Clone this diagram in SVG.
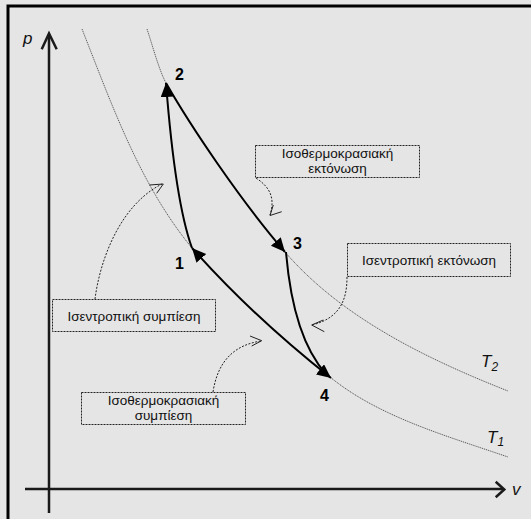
<svg xmlns="http://www.w3.org/2000/svg" width="531" height="519" viewBox="0 0 531 519">
<style>
.iso{fill:none;stroke:#5a5a5a;stroke-width:1;stroke-dasharray:1.2 0.8}
.proc{fill:none;stroke:#000;stroke-width:2}
.axis{fill:none;stroke:#1a1a1a;stroke-width:2.5}
.call{fill:none;stroke:#222;stroke-width:1;stroke-dasharray:2 1.5}
.chev{fill:none;stroke:#222;stroke-width:1}
.box{fill:none;stroke:#222;stroke-width:1;stroke-dasharray:2 1}
.lbl{font-family:"Liberation Sans",Arial,sans-serif;font-size:13.5px;fill:#111;text-anchor:middle}
.num{font-family:"Liberation Sans",Arial,sans-serif;font-size:16px;font-weight:bold;fill:#000}
.ax{font-family:"Liberation Sans",Arial,sans-serif;font-size:17px;font-style:italic;fill:#111}
</style>
<defs>
<marker id="ah" markerUnits="userSpaceOnUse" markerWidth="16" markerHeight="15" refX="14" refY="6.5" orient="auto-start-reverse">
<path d="M0,0 L14,6.5 L0,13 z" fill="#000"/>
</marker>
</defs>
<rect x="0" y="0" width="531" height="519" fill="#e5e5e5"/>
<path d="M8,519 L8,6 L531,6" fill="none" stroke="#000" stroke-width="3"/>
<g id="axes">
<path class="axis" d="M49,513 L49,35"/>
<path class="axis" d="M41.7,49.3 L49,33.5 L56.7,49.3" stroke-width="2"/>
<path class="axis" d="M25,489 L503,489"/>
<path class="axis" d="M495.7,481.7 L504.3,489.5 L495.7,497.3" stroke-width="2"/>
<text class="ax" x="23" y="44">p</text>
<text class="ax" x="512" y="495">v</text>
</g>
<g id="isotherms">
<path class="iso" d="M82,29 C112,105 140,185 192,248 C225,285 270,330 330,377 C379,417 447,436 508,457"/>
<path class="iso" d="M147,29 C153,47 159,70 166,83 C190,125 240,200 285,252 C342,318 427,359 508,391"/>
<text class="ax" x="481" y="367">T<tspan font-size="12" dy="4">2</tspan></text>
<text class="ax" x="487" y="443">T<tspan font-size="12" dy="3">1</tspan></text>
</g>
<g id="connectors">
<path class="proc" d="M192,248 C180,215 172,160 166,83" marker-end="url(#ah)"/>
<path class="proc" d="M166,83 C190,125 240,200 285,252" marker-end="url(#ah)"/>
<path class="proc" d="M286,252 C290,300 300,345 326,374"/>
<path class="proc" d="M331,378 C270,330 225,285 192,248" marker-start="url(#ah)" marker-end="url(#ah)"/>
</g>
<g id="p1"><text class="num" x="175" y="269">1</text></g>
<g id="p2"><text class="num" x="175" y="80">2</text></g>
<g id="p3"><text class="num" x="293" y="249">3</text></g>
<g id="p4"><text class="num" x="320" y="401">4</text></g>
<g id="callout-iso-exp">
<rect class="box" x="255.5" y="145.5" width="164" height="32"/>
<text class="lbl" x="337.5" y="158">Ισοθερμοκρασιακή</text>
<text class="lbl" x="337.5" y="173">εκτόνωση</text>
<path class="call" d="M256,178 C268,186 276,196 270,215"/>
<path class="chev" d="M273.3,205 L270,215.5 L281.7,211.7"/>
</g>
<g id="callout-isen-exp">
<rect class="box" x="347.5" y="243.5" width="163" height="33"/>
<text class="lbl" x="429" y="265">Ισεντροπική εκτόνωση</text>
<path class="call" d="M347,277 C347,300 340,318 312,325"/>
<path class="chev" d="M323.3,320 L311.7,325 L324.3,331.7"/>
</g>
<g id="callout-isen-comp">
<rect class="box" x="52.5" y="299.5" width="163" height="32"/>
<text class="lbl" x="134" y="321">Ισεντροπική συμπίεση</text>
<path class="call" d="M95,299 C100,260 120,205 162,184"/>
<path class="chev" d="M149.3,185 L163.3,184 L156.7,193.3"/>
</g>
<g id="callout-iso-comp">
<rect class="box" x="81.5" y="392.5" width="164" height="32"/>
<text class="lbl" x="163.5" y="405">Ισοθερμοκρασιακή</text>
<text class="lbl" x="163.5" y="420">συμπίεση</text>
<path class="call" d="M213,392 C218,360 235,345 261,341"/>
<path class="chev" d="M250,336 L261.7,340.7 L251.7,346"/>
</g>
</svg>
